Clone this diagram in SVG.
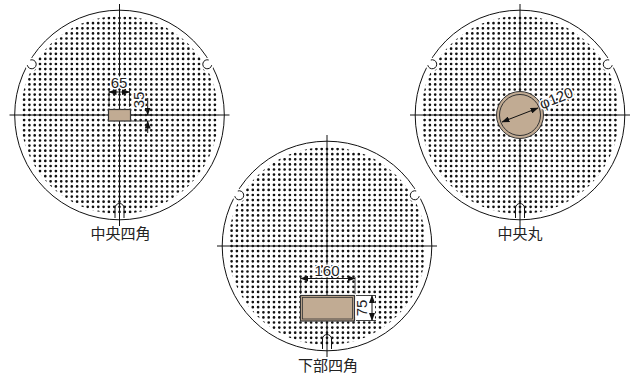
<svg xmlns="http://www.w3.org/2000/svg" width="633" height="374" viewBox="0 0 633 374">
<style>
.l{fill:none;stroke:#111;stroke-width:1}
.n{fill:#fff;stroke:#111;stroke-width:1}
.t{font-family:"Noto Sans CJK JP","Liberation Sans",sans-serif;font-size:15px;fill:#222;text-anchor:middle}
.d{font-family:"Liberation Sans",sans-serif;font-size:15px;fill:#222;text-anchor:middle;paint-order:stroke;stroke:#fff;stroke-width:3px}
.s{fill:#c1ab93;stroke:#333;stroke-width:1.2}
.a{fill:none;stroke:#111;stroke-width:1;marker-end:url(#ah)}
.b{fill:none;stroke:#111;stroke-width:1;marker-start:url(#ah);marker-end:url(#ah)}
.e{fill:none;stroke:#111;stroke-width:.8}
.p{fill:none;stroke:#111;stroke-width:2.700;stroke-linecap:round;stroke-dasharray:0 5.300}
</style>
<defs>
<marker id="ah" viewBox="0 0 8 6" refX="7.500" refY="3" markerWidth="8" markerHeight="6" orient="auto-start-reverse" markerUnits="userSpaceOnUse"><path d="M0 0L8 3L0 6z" fill="#111"/></marker>
<clipPath id="dc"><circle r="99"/></clipPath>
<g id="plate">
<circle r="104.800" fill="#fff" stroke="#111" stroke-width="1"/>
<path class="p" clip-path="url(#dc)" d="M-100.700 -96.900H101M-100.700 -91.800H101M-100.700 -86.700H101M-100.700 -81.600H101M-100.700 -76.500H101M-100.700 -71.400H101M-100.700 -66.300H101M-100.700 -61.200H101M-100.700 -56.100H101M-100.700 -51H101M-100.700 -45.900H101M-100.700 -40.800H101M-100.700 -35.700H101M-100.700 -30.600H101M-100.700 -25.500H101M-100.700 -20.400H101M-100.700 -15.300H101M-100.700 -10.200H101M-100.700 -5.100H101M-100.700 0H101M-100.700 5.100H101M-100.700 10.200H101M-100.700 15.300H101M-100.700 20.400H101M-100.700 25.500H101M-100.700 30.600H101M-100.700 35.700H101M-100.700 40.800H101M-100.700 45.900H101M-100.700 51H101M-100.700 56.100H101M-100.700 61.200H101M-100.700 66.300H101M-100.700 71.400H101M-100.700 76.500H101M-100.700 81.600H101M-100.700 86.700H101M-100.700 91.800H101M-100.700 96.900H101"/>
<circle cx="-88" cy="-50.700" r="6.500" fill="#fff"/>
<circle cx="88" cy="-50.700" r="6.500" fill="#fff"/>
<path d="M-4.500 103V93A4.500 4.500 0 0 1 4.500 93V103" class="l"/>
<path d="M-89.200 -55L-92.200 -49.800M89.200 -55L92.200 -49.800" stroke="#fff" stroke-width="2.500"/>
<path d="M-89.200 -55A4.500 4.500 0 1 1 -92.200 -49.800" class="n"/>
<path d="M89.200 -55A4.500 4.500 0 1 0 92.200 -49.800" class="n"/>
<path d="M-110 0H110M0 -111V111" class="l"/>
</g>
</defs>
<g id="plate-center-square">
<use href="#plate" x="119.500" y="115"/>
<rect class="s" x="108.500" y="109.500" width="22" height="11.500"/>
<text class="t" x="120.500" y="239">中央四角</text>
</g>
<g id="plate-center-circle">
<use href="#plate" x="520" y="115"/>
<circle cx="520" cy="115" r="23.500" fill="#c1ab93" stroke="#333" stroke-width="1"/>
<circle cx="520" cy="115" r="20.500" fill="none" stroke="#333" stroke-width="1"/>
<text class="t" x="520" y="239">中央丸</text>
</g>
<g id="plate-bottom-square">
<use href="#plate" x="327" y="246"/>
<rect class="s" x="300.500" y="295.500" width="54" height="25.500" stroke-width="1.500"/>
<rect x="302.500" y="297.500" width="50" height="21.500" fill="none" stroke="#333" stroke-width=".8"/>
<text class="t" x="328" y="371">下部四角</text>
</g>
<g id="connectors">
<path class="e" d="M109 107V88M129.500 107V88"/>
<path class="b" d="M109 92H129.500"/>
<text class="d" x="119" y="88">65</text>
<path class="e" d="M131 115H150M131 121H150"/>
<path class="a" d="M147.700 98V115"/>
<path class="a" d="M147.700 133V121"/>
<text class="d" transform="translate(144 100) rotate(-90)">35</text>
<path class="b" d="M502 122L538 108"/>
<text class="d" transform="translate(558 103) rotate(-22)">φ120</text>
<path class="e" d="M300.700 294V277M355 294V277"/>
<path class="b" d="M300.700 278.500H355"/>
<text class="d" x="327" y="275.500">160</text>
<path fill="#fff" d="M357 296H375V320H357z"/>
<path class="e" d="M356 295.500H376M356 320.500H376"/>
<path class="b" d="M372 295.500V320.500"/>
<text class="d" transform="translate(367 308) rotate(-90)">75</text>
</g>
</svg>
